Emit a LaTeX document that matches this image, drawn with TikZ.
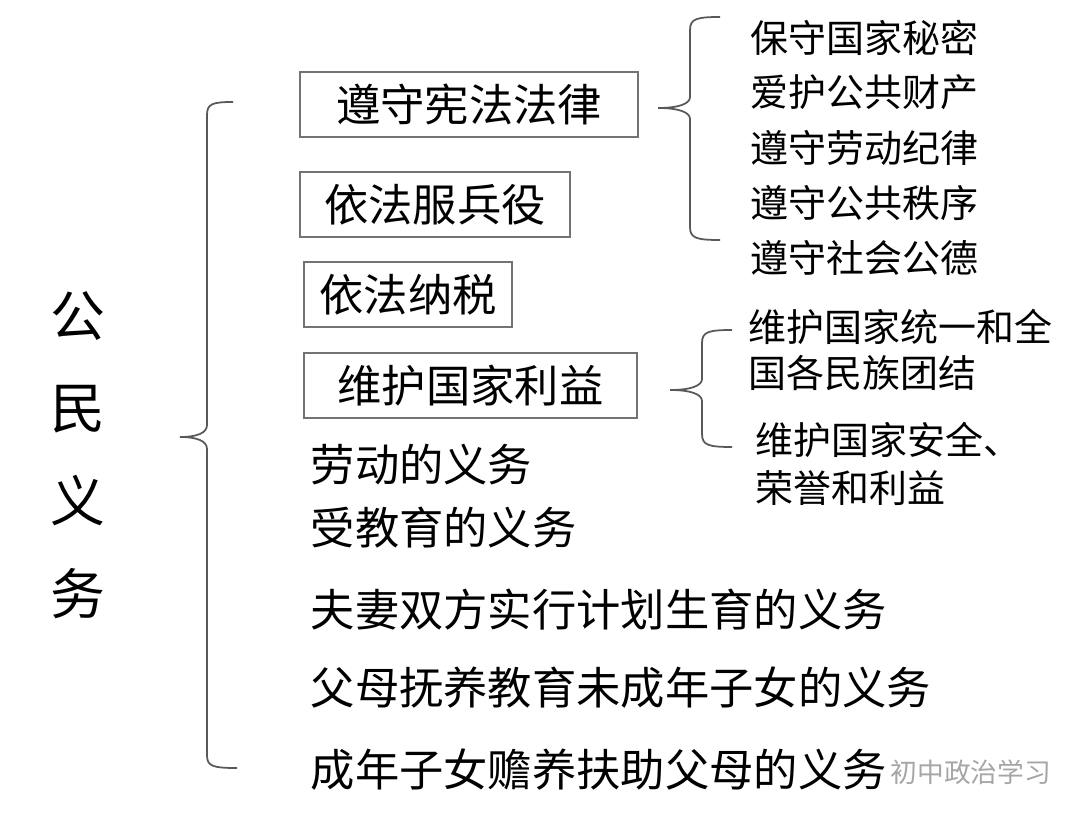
\documentclass[tikz,border=0pt]{standalone}
\usepackage{fontspec}
\setmainfont{Noto Sans CJK SC}
\usetikzlibrary{positioning}

\begin{document}
\begin{tikzpicture}[x=0.01cm,y=-0.01cm,
    dutybox/.style={draw=black!55,line width=0.6pt,inner sep=0pt,minimum height=0.65cm,
      font=\fontsize{12.6pt}{15pt}\selectfont},
    item/.style={anchor=west,inner sep=0pt,font=\fontsize{12.6pt}{15pt}\selectfont},
    subitem/.style={anchor=west,inner sep=0pt,font=\fontsize{10.8pt}{13pt}\selectfont},
    bracket/.style={draw=black!65,line width=0.5pt}]
  \useasboundingbox (0,0) rectangle (1080,822);
  % title, set upright
  \node (title) [align=center,font=\fontsize{15.6pt}{26.4pt}\selectfont] at (78,455)
    {公\\民\\义\\务};
  % boxed duties
  \node (law) [dutybox,minimum width=3.38cm] at (469,104.5) {遵守宪法法律};
  \node (army) [dutybox,minimum width=2.70cm] at (435,204.5) {依法服兵役};
  \node (tax) [dutybox,minimum width=2.08cm] at (408,294.5) {依法纳税};
  \node (nation) [dutybox,minimum width=3.33cm] at (470.5,385.5) {维护国家利益};
  % plain duties
  \node (work) [item] at (310,465) {劳动的义务};
  \node (school) [item] at (310,528) {受教育的义务};
  \node (plan) [item] at (310,610) {夫妻双方实行计划生育的义务};
  \node (raise) [item] at (310,688) {父母抚养教育未成年子女的义务};
  \node (support) [item] at (310,770) {成年子女赡养扶助父母的义务};
  % details of the law box
  \node (secret) [subitem] at (750,38) {保守国家秘密};
  \node (property) [subitem] at (750,92) {爱护公共财产};
  \node (discipline) [subitem] at (750,148) {遵守劳动纪律};
  \node (order) [subitem] at (750,203) {遵守公共秩序};
  \node (ethics) [subitem] at (750,258) {遵守社会公德};
  % details of the nation box
  \node (unity) [subitem,align=left] at (748,350) {维护国家统一和全\\[0.01cm]国各民族团结};
  \node (safety) [subitem,align=left] at (755,464) {维护国家安全、\\[0.02cm]荣誉和利益};
  % watermark
  \node (mark) [anchor=west,inner sep=0pt,text=black!35,font=\fontsize{7.6pt}{9pt}\selectfont]
    at (890,772) {初中政治学习};
  % braces
  \coordinate (bigtop) at (233,102);
  \coordinate (bigtip) at (180,437);
  \coordinate (bigbot) at (237,768);
  \draw[bracket] (bigtop) .. controls (212,102) and (207,104) .. (207,115) -- (207,425)
    .. controls (207,433) and (197,437) .. (bigtip)
    .. controls (197,437) and (207,441) .. (207,449) -- (207,755)
    .. controls (207,766) and (212,768) .. (bigbot);
  \coordinate (lawtop) at (720,17);
  \coordinate (lawtip) at (658,108);
  \coordinate (lawbot) at (720,240);
  \draw[bracket] (lawtop) .. controls (696,17) and (690,19) .. (690,30) -- (690,97)
    .. controls (690,104) and (678,108) .. (lawtip)
    .. controls (678,108) and (690,112) .. (690,119) -- (690,227)
    .. controls (690,238) and (696,240) .. (lawbot);
  \coordinate (nationtop) at (732,330);
  \coordinate (nationtip) at (670,390);
  \coordinate (nationbot) at (732,447);
  \draw[bracket] (nationtop) .. controls (708,330) and (702,332) .. (702,343) -- (702,379)
    .. controls (702,386) and (690,390) .. (nationtip)
    .. controls (690,390) and (702,394) .. (702,401) -- (702,434)
    .. controls (702,445) and (708,447) .. (nationbot);
\end{tikzpicture}
\end{document}
